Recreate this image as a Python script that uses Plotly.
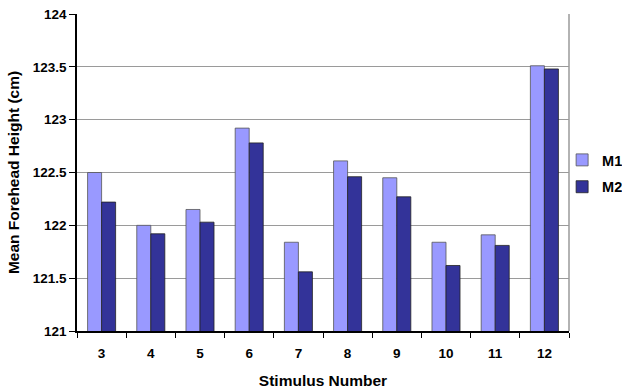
import plotly.graph_objects as go

stimulus = ["3", "4", "5", "6", "7", "8", "9", "10", "11", "12"]
m1 = [122.50, 122.00, 122.15, 122.92, 121.84, 122.61, 122.45, 121.84, 121.91, 123.51]
m2 = [122.22, 121.92, 122.03, 122.78, 121.56, 122.46, 122.27, 121.62, 121.81, 123.48]

font_family = "Liberation Sans, Arial, sans-serif"

fig = go.Figure()
fig.add_trace(go.Bar(
    x=stimulus, y=m1, name="M1", legendgroup="m1",
    marker=dict(color="#9999FF", line=dict(color="#555555", width=0.8)),
))
fig.add_trace(go.Bar(
    x=stimulus, y=m2, name="M2", legendgroup="m2",
    marker=dict(color="#333399", line=dict(color="#222222", width=0.8)),
))

fig.update_layout(
    width=622, height=392,
    margin=dict(l=77, r=53, t=14, b=61, autoexpand=False),
    paper_bgcolor="white", plot_bgcolor="white",
    barmode="group", bargap=0.43, bargroupgap=0,
    font=dict(family=font_family, color="black"),
    showlegend=True,
    legend=dict(
        x=0.986, y=0.497, xanchor="left", yanchor="middle",
        font=dict(size=14.5, family=font_family, color="black", weight="bold"),
        itemwidth=30, tracegroupgap=5, bgcolor="rgba(0,0,0,0)",
    ),
    xaxis=dict(
        type="category", automargin=False,
        title=dict(text="<b>Stimulus Number</b>", font=dict(size=15.5), standoff=15),
        tickfont=dict(size=13.5, weight="bold"),
        ticks="outside", tickson="boundaries", ticklen=5, tickcolor="black",
        ticklabelstandoff=9,
        showline=True, linecolor="black", linewidth=1.5,
        showgrid=False,
    ),
    yaxis=dict(
        range=[121, 124], dtick=0.5, automargin=False,
        title=dict(text="<b>Mean Forehead Height (cm)</b>", font=dict(size=15.5), standoff=9),
        tickfont=dict(size=13.5, weight="bold"),
        ticks="outside", ticklen=6, tickcolor="black",
        showline=True, linecolor="black", linewidth=1.5,
        showgrid=True, gridcolor="#9a9a9a", gridwidth=1,
        zeroline=False,
    ),
)

# right-hand border of the plot area
fig.add_shape(type="line", xref="paper", yref="paper", x0=1, x1=1, y0=0, y1=1,
              line=dict(color="#9a9a9a", width=1.5))

fig.write_html("out.html")
